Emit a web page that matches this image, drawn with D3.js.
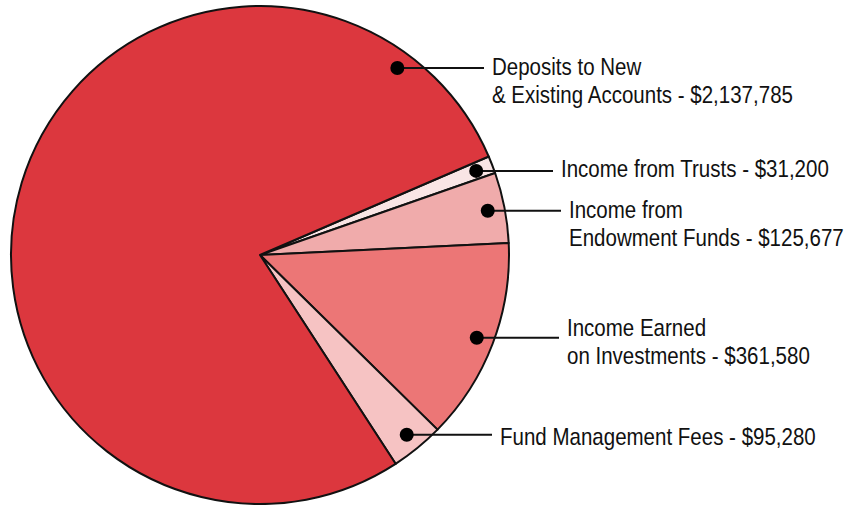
<!DOCTYPE html>
<html>
<head>
<meta charset="utf-8">
<script src="https://cdn.jsdelivr.net/npm/d3@7"></script>
<style>
  body { margin: 0; background: #fff; }
  text { font-family: "Liberation Sans", Arial, sans-serif; font-size: 24px; fill: #111; }
</style>
</head>
<body>
<svg width="846" height="505"></svg>
<script>
// slices, clockwise from the Deposits/Trusts boundary
var names = ['Income from Trusts', 'Income from Endowment Funds', 'Income Earned on Investments', 'Fund Management Fees', 'Deposits to New & Existing Accounts'];
var values = [31200, 125677, 361580, 95280, 2137785];
var colors = ['#f9e5e5', '#f0abab', '#ec7676', '#f6c3c3', '#dc373e'];
var labelLines = [
  ['Income from Trusts - $31,200'],
  ['Income from', 'Endowment Funds - $125,677'],
  ['Income Earned', 'on Investments - $361,580'],
  ['Fund Management Fees - $95,280'],
  ['Deposits to New', '& Existing Accounts - $2,137,785']
];

var cx = 260, cy = 255, radius = 249;
var start = 66.7 * Math.PI / 180;

var svg = d3.select('svg');
var g = svg.append('g').attr('transform', 'translate(' + cx + ',' + cy + ')');

var pie = d3.pie().sort(null).startAngle(start).endAngle(start + 2 * Math.PI);
var arcs = pie(values);
var arc = d3.arc().innerRadius(0).outerRadius(radius);

g.selectAll('path')
  .data(arcs)
  .enter().append('path')
  .attr('d', arc)
  .attr('fill', function(d, i){ return colors[i]; })
  .attr('stroke', '#111')
  .attr('stroke-width', 2)
  .attr('stroke-linejoin', 'round');

// label layout: dot angle (deg, null = slice middle), text x, first baseline
var labelPos = [
  { ang: null, tx: 561, ty: 177 },
  { ang: null, tx: 569, ty: 218 },
  { ang: null, tx: 567, ty: 336 },
  { ang: null, tx: 500, ty: 445 },
  { ang: 36.3, tx: 492, ty: 75 }
];

arcs.forEach(function(d, i){
  var lp = labelPos[i];
  var a = lp.ang === null ? (d.startAngle + d.endAngle) / 2 : lp.ang * Math.PI / 180;
  var p = d3.pointRadial(a, 232);
  var x = cx + p[0], y = cy + p[1];
  svg.append('line')
    .attr('x1', x).attr('y1', y)
    .attr('x2', lp.tx - 8).attr('y2', y)
    .attr('stroke', '#111').attr('stroke-width', 2);
  svg.append('circle')
    .attr('cx', x).attr('cy', y).attr('r', 7)
    .attr('fill', '#000');
  // condensed type: squeeze horizontally
  var t = svg.append('text')
    .attr('transform', 'translate(' + lp.tx + ',' + lp.ty + ') scale(0.855,1)');
  labelLines[i].forEach(function(s, j){
    t.append('tspan').attr('x', 0).attr('dy', j ? 28 : 0).text(s);
  });
});
</script>
</body>
</html>
